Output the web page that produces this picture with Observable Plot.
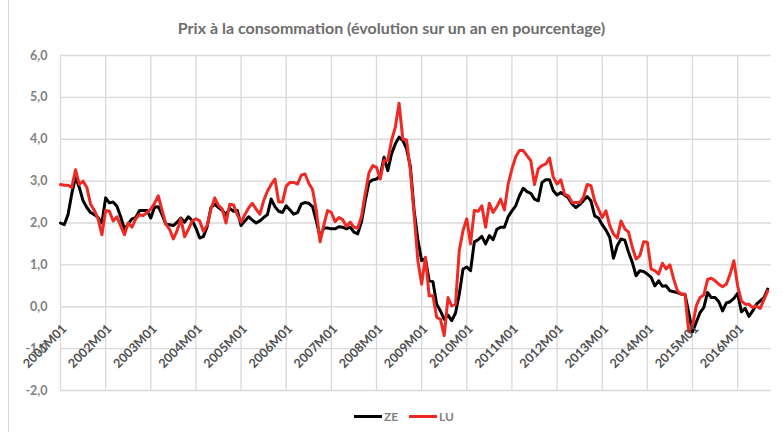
<!DOCTYPE html>
<html><head><meta charset="utf-8">
<script src="https://cdn.jsdelivr.net/npm/d3@7"></script>
<script src="https://cdn.jsdelivr.net/npm/@observablehq/plot@0.6"></script>
<style>
html,body{margin:0;padding:0;background:#fff;}
#wrap{position:relative;width:783px;height:432px;overflow:hidden;font-family:Lato,"Open Sans",sans-serif;background:#fff;}
#title{position:absolute;left:0;top:18px;width:783px;text-align:center;font-weight:bold;font-size:16px;line-height:20px;color:#6e6e6e;}
#chart{position:absolute;left:0;top:40px;}
#border{position:absolute;left:8px;top:0;width:0;height:432px;border-left:1px solid #d9d9d9;}
.leg{position:absolute;top:408px;height:16px;display:flex;align-items:center;font-weight:bold;font-size:12px;color:#7f7f7f;}
.leg span.sw{display:inline-block;width:28px;height:3px;margin-right:2px;}
</style></head><body>
<div id="wrap">
 <div id="title">Prix à la consommation (évolution sur un an en pourcentage)</div>
 <div id="chart"></div>
 <div id="legend"></div>
 <div id="border"></div>
</div>
<script>
const seriesNames = ["ZE", "LU"];
const seriesColors = ["#000000", "#ee2a24"];
const legendLeft = [354, 409];
const startYear = 2001;
const endYear = 2016;
const yTicks = [-2, -1, 0, 1, 2, 3, 4, 5, 6];

// Zone euro (black)
const ZE = [
  2.0, 1.96, 2.2, 2.7, 3.1, 2.85, 2.53, 2.37, 2.25, 2.2, 2.13, 2.0,
  2.6, 2.48, 2.5, 2.4, 2.15, 1.85, 1.98, 2.1, 2.13, 2.3, 2.3, 2.3,
  2.12, 2.38, 2.39, 2.2, 1.97, 1.96, 1.94, 2.02, 2.12, 2.02, 2.15, 2.06,
  1.88, 1.64, 1.68, 1.92, 2.37, 2.45, 2.37, 2.3, 2.2, 2.35, 2.28, 2.3,
  1.94, 2.05, 2.15, 2.07, 2.0, 2.05, 2.13, 2.2, 2.57, 2.39, 2.28, 2.25,
  2.41, 2.31, 2.21, 2.25, 2.45, 2.49, 2.47, 2.39, 2.05, 1.67, 1.88, 1.88,
  1.86, 1.86, 1.91, 1.9, 1.86, 1.9, 1.78, 1.74, 2.02, 2.53, 2.97, 3.03,
  3.05, 3.13, 3.57, 3.25, 3.65, 3.89, 4.05, 3.97, 3.77, 3.35, 2.3, 1.6,
  1.1, 1.15, 0.62, 0.6, 0.06, -0.1, -0.3, -0.2, -0.33, -0.15, 0.3, 0.9,
  0.95, 0.86, 1.55, 1.6, 1.68, 1.5, 1.7, 1.6, 1.85, 1.9, 1.9, 2.15,
  2.29, 2.41, 2.65, 2.83, 2.75, 2.71, 2.57, 2.53, 2.97, 3.03, 3.03, 2.77,
  2.67, 2.73, 2.67, 2.6, 2.45, 2.37, 2.44, 2.53, 2.63, 2.53, 2.17, 2.12,
  1.96, 1.83, 1.66, 1.16, 1.46, 1.62, 1.59, 1.3, 1.06, 0.74, 0.86, 0.84,
  0.78, 0.7, 0.5, 0.62, 0.49, 0.5, 0.38, 0.36, 0.34, 0.3, 0.3, -0.14,
  -0.6, -0.37, -0.14, -0.02, 0.34, 0.22, 0.22, 0.12, -0.1, 0.09, 0.12, 0.2,
  0.32, -0.12, -0.04, -0.23, -0.1, 0.06, 0.14, 0.22, 0.42
];

// Luxembourg (red)
const LU = [
  2.92, 2.9, 2.9, 2.85, 3.27, 2.92, 3.0, 2.85, 2.45, 2.3, 2.1, 1.72,
  2.3, 2.28, 2.05, 2.15, 1.93, 1.72, 2.0, 1.9, 2.1, 2.2, 2.18, 2.25,
  2.33, 2.47, 2.65, 2.3, 1.98, 1.85, 1.62, 1.82, 2.1, 1.67, 1.85, 2.05,
  2.1, 2.05, 1.8, 1.95, 2.33, 2.6, 2.42, 2.33, 2.0, 2.45, 2.43, 2.2,
  2.02, 2.2, 2.36, 2.47, 2.33, 2.21, 2.53, 2.76, 2.92, 3.05, 2.5, 2.5,
  2.88, 2.97, 2.97, 2.93, 3.14, 3.17, 2.95, 2.8, 2.3, 1.55, 1.95, 2.3,
  2.25, 2.03, 2.13, 2.08, 1.92, 2.02, 1.9, 1.88, 2.15, 2.7, 3.2, 3.37,
  3.33, 3.05, 3.49, 3.49, 3.97, 4.29, 4.86, 4.0, 3.98, 3.25, 2.2, 1.1,
  0.54, 1.18, 0.26, 0.26, -0.25, -0.3, -0.69, 0.22, 0.02, 0.06, 1.34, 1.82,
  2.1, 1.5, 2.3, 2.28, 2.41, 1.9, 2.47, 2.25, 2.39, 2.57, 2.31, 2.93,
  3.29, 3.58, 3.73, 3.73, 3.61, 3.49, 2.92, 3.29, 3.37, 3.41, 3.55, 3.09,
  2.93, 3.03, 2.69, 2.65, 2.49, 2.49, 2.49, 2.61, 2.92, 2.89, 2.53, 2.33,
  2.13, 2.29, 1.94, 1.74, 1.64, 2.05, 1.86, 1.78, 1.42, 1.14, 1.22, 1.55,
  1.54, 0.9, 0.86, 0.78, 1.04, 0.9, 1.0, 0.66, 0.38, 0.3, 0.3, -0.6,
  -0.45, 0.02, 0.22, 0.28, 0.65, 0.68, 0.62, 0.54, 0.48, 0.54, 0.78, 1.1,
  0.5, 0.14, 0.06, 0.06, -0.02, 0.02, -0.04, 0.17, 0.38
];

const months = [];
for (let y = startYear; y <= endYear; y++)
  for (let m = 1; m <= 12; m++) months.push(`${y}M${String(m).padStart(2, "0")}`);
const monthDomain = months.slice(0, ZE.length + 1);
const yearLabels = months.filter(m => m.endsWith("M01"));
const rows = ZE.map((v, i) => ({month: months[i], ZE: v, LU: LU[i]}));

const chart = Plot.plot({
  width: 783, height: 360,
  marginLeft: 60, marginRight: 12, marginTop: 15, marginBottom: 10,
  style: {fontFamily: "Lato, sans-serif", background: "transparent"},
  x: {type: "point", domain: monthDomain, padding: 0, axis: null},
  y: {domain: [-2, 6], axis: null},
  marks: [
    Plot.ruleY(yTicks, {stroke: "#d9d9d9", strokeWidth: 1.3}),
    Plot.ruleX(yearLabels, {stroke: "#d9d9d9", strokeWidth: 1.3}),
    Plot.axisY(yTicks, {tickSize: 0, tickPadding: 13, label: null,
      tickFormat: d => d.toFixed(1).replace(".", ","),
      fontSize: 12.5, fontWeight: "bold", fill: "#7f7f7f"}),
    Plot.line(rows, {x: "month", y: "ZE", stroke: seriesColors[0], strokeWidth: 3, strokeLinejoin: "round"}),
    Plot.line(rows, {x: "month", y: "LU", stroke: seriesColors[1], strokeWidth: 3, strokeLinejoin: "round"}),
    Plot.text(yearLabels, {x: d => d, y: 0, text: d => d, rotate: -45,
      textAnchor: "end", lineAnchor: "middle", dx: 4, dy: 20,
      fill: "#505050", fontSize: 12.5, fontWeight: "bold"})
  ]
});
document.getElementById("chart").appendChild(chart);

const legend = document.getElementById("legend");
seriesNames.forEach((name, i) => {
  const d = document.createElement("div");
  d.className = "leg";
  d.style.left = legendLeft[i] + "px";
  d.innerHTML = `<span class="sw" style="background:${seriesColors[i]}"></span>${name}`;
  legend.appendChild(d);
});
</script>
</body></html>
